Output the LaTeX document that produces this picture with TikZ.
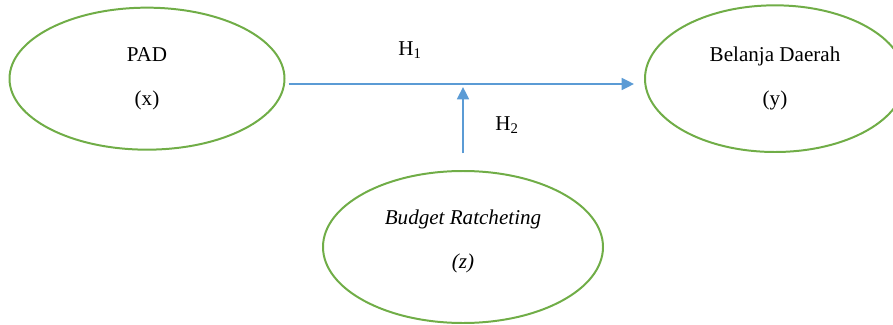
\documentclass[tikz,border=0pt]{standalone}
\usepackage{fontspec}
\setmainfont{Liberation Serif}
\usetikzlibrary{shapes.geometric,arrows.meta}
\definecolor{vargreen}{RGB}{112,173,71}
\definecolor{pathblue}{RGB}{91,155,213}

\begin{document}
\begin{tikzpicture}[-{Triangle[length=0.37cm,width=0.36cm]},draw=pathblue]
	\fontsize{18}{21}\selectfont
	\def \toprow{7.36cm}
	\def \botrow{2.31cm}
	\def \gap{17pt}

	\tikzstyle{var-node}=[ellipse,draw=vargreen,line width=1.7pt,inner sep=0pt,align=center]
	\tikzstyle{path-line}=[line width=1.3pt]
	% labels
	\tikzstyle{label}=[inner sep=0pt]
	\useasboundingbox (0cm,0cm) rectangle (26.79cm,9.72cm);

	\node[var-node,minimum width=8.25cm,minimum height=4.26cm] (pad) at (4.41cm,\toprow) {PAD\\[\gap](x)};
	\node[var-node,minimum width=7.8cm,minimum height=4.4cm] (belanja) at (23.25cm,\toprow) {Belanja Daerah\\[\gap](y)};
	\node[var-node,minimum width=8.4cm,minimum height=4.56cm] (ratchet) at (13.89cm,\botrow) {\textit{Budget Ratcheting}\\[\gap]\textit{(z)}\\[-7.5pt]};

	\node[label] (h1) at (12.3cm,8.22cm) {H\textsubscript{1}};
	\node[label] (h2) at (15.21cm,5.97cm) {H\textsubscript{2}};

	\draw[path-line,shorten <=0.09cm,shorten >=0.3cm] ([yshift=-0.16cm]pad.east) -- coordinate[pos=0.5] (meet) ([yshift=-0.16cm]belanja.west);
	\draw[path-line,shorten <=0.5cm,shorten >=0.09cm] (ratchet.north) -- (ratchet.north |- meet);
\end{tikzpicture}
\end{document}
